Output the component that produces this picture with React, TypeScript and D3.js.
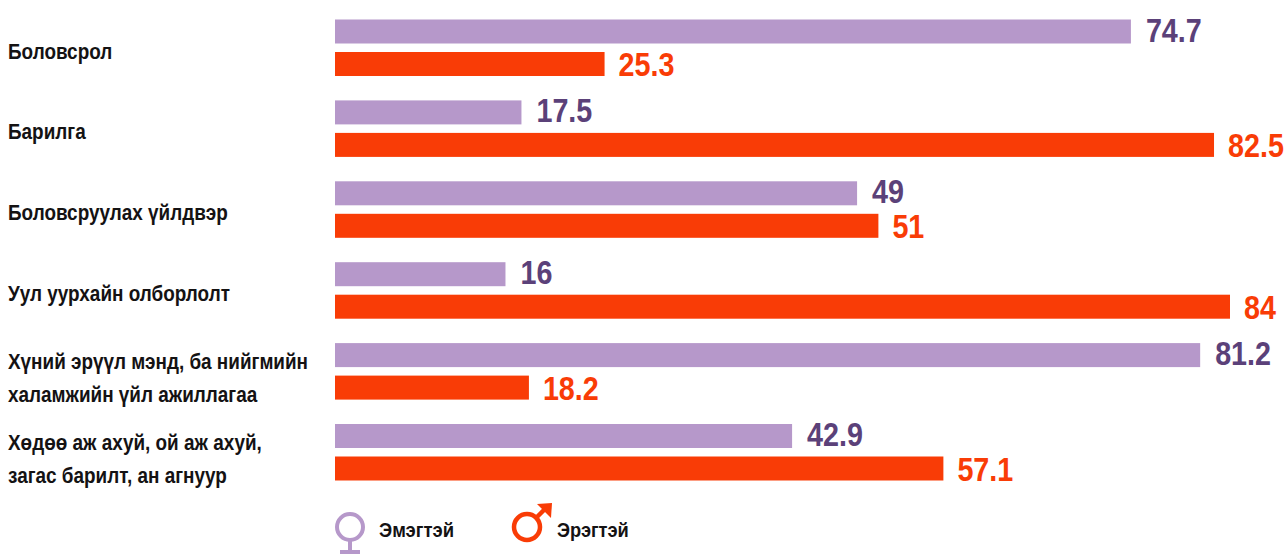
import React from "react";
import * as d3 from "d3";

const categories = [
  ["Боловсрол"],
  ["Барилга"],
  ["Боловсруулах үйлдвэр"],
  ["Уул уурхайн олборлолт"],
  ["Хүний эрүүл мэнд, ба нийгмийн", "халамжийн үйл ажиллагаа"],
  ["Хөдөө аж ахуй, ой аж ахуй,", "загас барилт, ан агнуур"],
];
const female = [74.7, 17.5, 49, 16, 81.2, 42.9];
const male = [25.3, 82.5, 51, 84, 18.2, 57.1];
const PURPLE = "#b698ca";
const RED = "#f93c06";
const DARK = "#5b4179";
const INK = "#141213";
const font = "'Liberation Sans', Arial, sans-serif";

const Squeezed = ({ x, y, sx, size, fill, children }: any) => (
  <text transform={`translate(${x},${y}) scale(${sx},1)`} fontFamily={font} fontWeight={700} fontSize={size} fill={fill}>{children}</text>
);

export default function App() {
  const x = d3.scaleLinear().domain([0, 84]).range([335, 1230]);
  const y = d3.scaleLinear().domain([0, 5]).range([31.5, 436]);
  const line = d3.line();
  return (
    <svg width={1285} height={554} style={{ position: "absolute", left: 0, top: 0, background: "#fff" }}>
      {categories.map((c, i) => {
        const yF = y(i);
        const yM = yF + 32.5;
        return (
          <g key={i}>
            <rect x={x(0)} y={yF - 12} width={x(female[i]) - x(0)} height={24} fill={PURPLE} />
            <rect x={x(0)} y={yM - 12} width={x(male[i]) - x(0)} height={24} fill={RED} />
            <Squeezed x={x(female[i]) + 15} y={yF + 10} sx={0.87} size={33} fill={DARK}>{female[i]}</Squeezed>
            <Squeezed x={x(male[i]) + 14} y={yM + 12} sx={0.87} size={33} fill={RED}>{male[i]}</Squeezed>
            {c.map((t, j) => (
              <Squeezed key={j} x={8} y={c.length === 1 ? yF + 27 : yF + 14 + j * 33} sx={0.86} size={22} fill={INK}>{t}</Squeezed>
            ))}
          </g>
        );
      })}
      <circle cx={350} cy={527} r={13} fill="none" stroke={PURPLE} strokeWidth={4} />
      <path d={line([[350, 540], [350, 554]]) ?? ""} stroke={PURPLE} strokeWidth={4} fill="none" />
      <path d={line([[340, 552], [360, 552]]) ?? ""} stroke={PURPLE} strokeWidth={4} fill="none" />
      <Squeezed x={379} y={537} sx={0.88} size={21} fill={INK}>Эмэгтэй</Squeezed>
      <circle cx={527} cy={527} r={13} fill="none" stroke={RED} strokeWidth={4.5} />
      <path d={line([[536, 518], [547, 507]]) ?? ""} stroke={RED} strokeWidth={4.5} fill="none" />
      <path d={(line([[537, 504], [552, 503], [551, 518]]) ?? "") + "Z"} fill={RED} />
      <Squeezed x={557} y={537} sx={0.87} size={21} fill={INK}>Эрэгтэй</Squeezed>
    </svg>
  );
}
